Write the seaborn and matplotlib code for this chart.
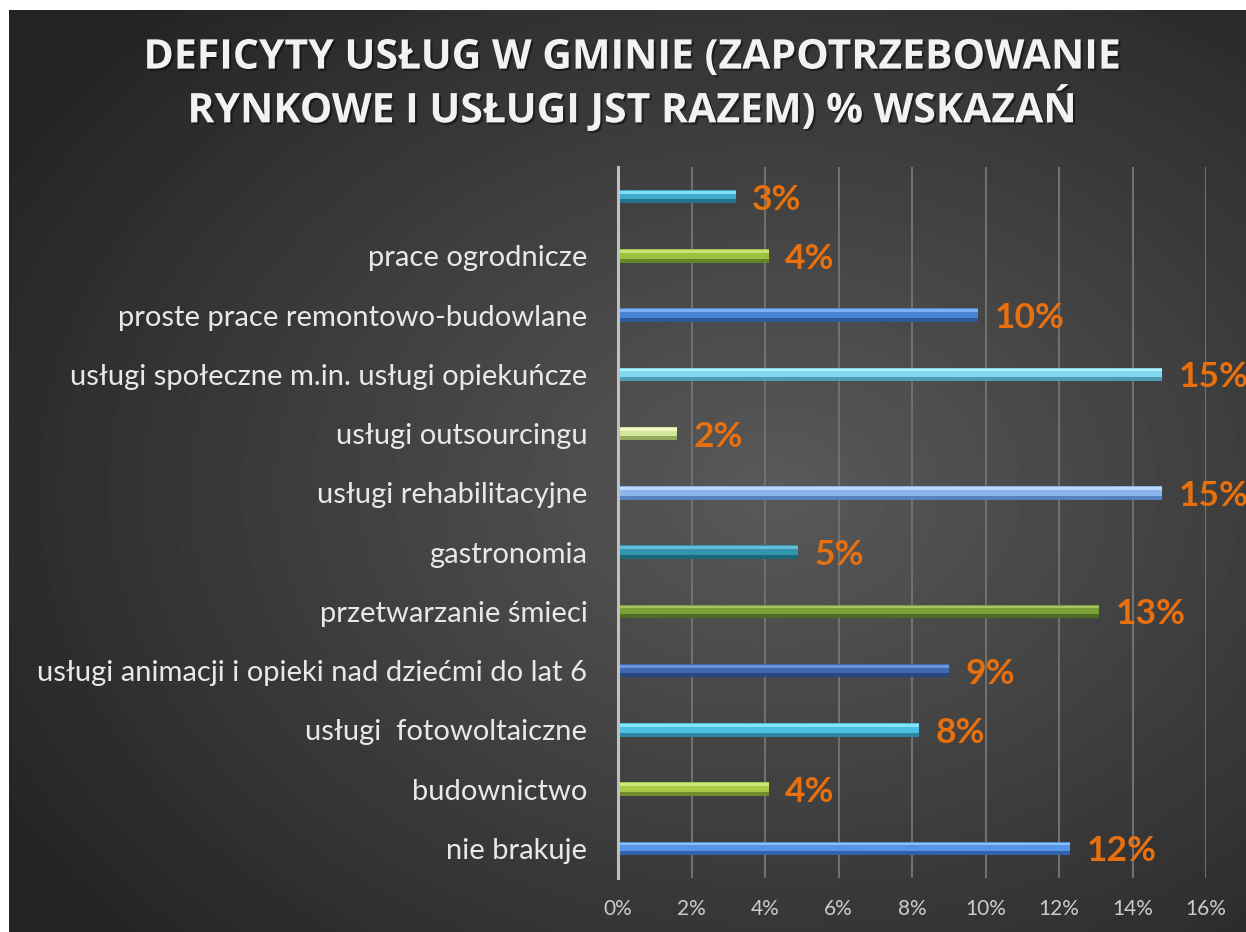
import numpy as np
import pandas as pd
import matplotlib.pyplot as plt
import matplotlib.patheffects as pe
import seaborn as sns

# dane (od gory do dolu)
categories = ["", "prace ogrodnicze", "proste prace remontowo-budowlane",
              "usługi społeczne m.in. usługi opiekuńcze", "usługi outsourcingu",
              "usługi rehabilitacyjne", "gastronomia", "przetwarzanie śmieci",
              "usługi animacji i opieki nad dziećmi do lat 6", "usługi  fotowoltaiczne",
              "budownictwo", "nie brakuje"]
values = [3.2, 4.1, 9.8, 14.8, 1.6, 14.8, 4.9, 13.1, 9.0, 8.2, 4.1, 12.3]
value_labels = ["3%", "4%", "10%", "15%", "2%", "15%", "5%", "13%", "9%", "8%", "4%", "12%"]
xticks = [0, 2, 4, 6, 8, 10, 12, 14, 16]
xtick_labels = ["0%", "2%", "4%", "6%", "8%", "10%", "12%", "14%", "16%"]

main_colors = ["#40AACD", "#9CC23F", "#4A84D6", "#7FD8EE", "#D4E699", "#8AB6EC",
               "#3394AF", "#7A9E38", "#3E69B0", "#4CC0E4", "#A8CB48", "#5495E4"]
light_colors = ["#80DDF6", "#C6E274", "#7DAFF2", "#B8F2FF", "#F0FAC6", "#BAD8FF",
                "#66BCD4", "#A4C562", "#6C93D4", "#86E4FA", "#CDE77C", "#89C0F9"]
dark_colors = ["#27738E", "#65832A", "#2D5899", "#4C9CB2", "#93A95C", "#5582C0",
               "#1E6679", "#4F6B24", "#264780", "#2B86A2", "#708D2C", "#3263AA"]

sns.set_style("dark")
plt.rcParams['font.family'] = ['Lato', 'DejaVu Sans']

fig = plt.figure(figsize=(12.46, 9.32), dpi=100)
fig.patch.set_facecolor("white")

# tlo z gradientem
bg = fig.add_axes([9 / 1246, 0, 1 - 9 / 1246, 1 - 10 / 932])
yy, xx = np.mgrid[0:1:300j, 0:1:400j]
r = np.sqrt(((xx - 0.62) / 0.7) ** 2 + ((yy - 0.52) / 0.7) ** 2)
img = np.clip(0.35 - 0.2 * r, 0.14, 0.35)
bg.imshow(img, cmap="gray", vmin=0, vmax=1, aspect="auto", extent=[0, 1, 0, 1],
          interpolation="bicubic")
bg.axis("off")

ax = fig.add_axes([618 / 1246, 1 - 878 / 932, (1206 - 618) / 1246, (878 - 167) / 932])
ax.set_facecolor("none")

df = pd.DataFrame({"kategoria": categories, "wartosc": values})
sns.barplot(data=df, x="wartosc", y="kategoria", hue="kategoria", palette=dark_colors,
            legend=False, width=0.23, saturation=1, edgecolor="none", linewidth=0,
            ax=ax, zorder=3)
pos = np.arange(len(categories))
ax.barh(pos - 0.035, values, height=0.16, color=main_colors, edgecolor="none",
        linewidth=0, zorder=4)
ax.barh(pos - 0.075, values, height=0.045, color=light_colors, edgecolor="none",
        linewidth=0, zorder=5)

for i, (v, lab) in enumerate(zip(values, value_labels)):
    ax.text(v + 0.45, i, lab, va="center_baseline", ha="left", color="#E8700E",
            fontsize=25.5, fontweight="bold", zorder=6)

ax.set_xlim(0, 16)
ax.set_ylim(len(categories) - 0.5, -0.5)
ax.set_xticks(xticks)
ax.set_xticklabels(xtick_labels)
ax.set_xlabel("")
ax.set_ylabel("")
ax.grid(axis="x", color="#707070", lw=1.5, zorder=0)
ax.grid(axis="y", visible=False)
for s in ["top", "right", "bottom"]:
    ax.spines[s].set_visible(False)
ax.spines["left"].set_color("#c0c0c0")
ax.spines["left"].set_linewidth(2.2)
ax.spines["left"].set_zorder(7)
ax.tick_params(axis="y", length=0, pad=22, labelsize=21, labelcolor="#e8e8e8")
ax.tick_params(axis="x", length=0, pad=15, labelsize=15, labelcolor="#cccccc")

fig.text(632 / 1246, 1 - 85 / 932,
         "DEFICYTY USŁUG W GMINIE (ZAPOTRZEBOWANIE\nRYNKOWE I USŁUGI JST RAZEM) % WSKAZAŃ",
         ha="center", va="center", multialignment="center", color="#f2f2f2",
         fontsize=29.5, fontweight="bold", family=["Open Sans", "DejaVu Sans"],
         linespacing=1.2,
         path_effects=[pe.withSimplePatchShadow(offset=(1.5, -1.5), shadow_rgbFace="black", alpha=0.45)])

fig.savefig("out.png", dpi=100, facecolor=fig.get_facecolor())
